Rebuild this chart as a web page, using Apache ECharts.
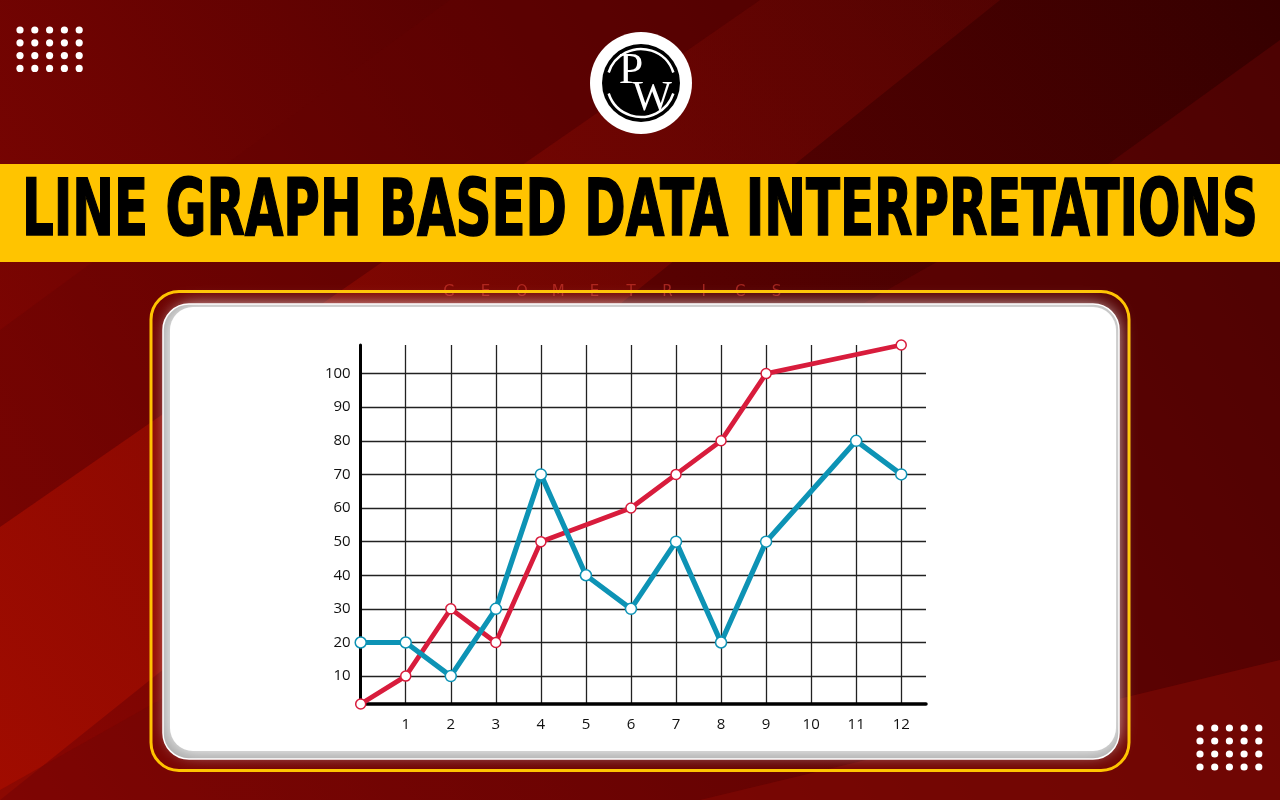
<!DOCTYPE html>
<html><head><meta charset="utf-8">
<script src="https://cdn.jsdelivr.net/npm/echarts@6/dist/echarts.min.js"></script>
<style>html,body{margin:0;padding:0;background:#5a0202;overflow:hidden}#c{width:1280px;height:800px}</style>
</head><body><div id="c"></div>
<script>
// ---- data ----
const xGridTicks = [0, 1, 2, 3, 4, 5, 6, 7, 8, 9, 10, 11, 12];
const xLabelTicks = [1, 2, 3, 4, 5, 6, 7, 8, 9, 10, 11, 12];
const yTicks = [10, 20, 30, 40, 50, 60, 70, 80, 90, 100];
const redX = [0, 1, 2, 3, 4, 6, 7, 8, 9, 12];
const redY = [1.7, 10, 30, 20, 50, 60, 70, 80, 100, 108.5];
const blueX = [0, 1, 2, 3, 4, 5, 6, 7, 8, 9, 11, 12];
const blueY = [20, 20, 10, 30, 70, 40, 30, 50, 20, 50, 80, 70];
const titleText = 'LINE GRAPH BASED DATA INTERPRETATIONS';
const watermarkLetters = ['G', 'E', 'O', 'M', 'E', 'T', 'R', 'I', 'C', 'S'];

const chart = echarts.init(document.getElementById('c'), null, {renderer: 'canvas'});

const titleFont = 'bold 78px "DejaVu Sans Condensed", "DejaVu Sans", sans-serif';
const mctx = document.createElement('canvas').getContext('2d');
mctx.font = titleFont;
const titleScale = 1236 / mctx.measureText(titleText).width;

const g = [];
// background
g.push({type: 'rect', z: -20, shape: {x: 0, y: 0, width: 1280, height: 800},
  style: {fill: new echarts.graphic.LinearGradient(1, 0, 0, 1, [
    {offset: 0, color: '#360000'}, {offset: 0.45, color: '#580101'}, {offset: 1, color: '#8a0602'}])}});
g.push({type: 'polygon', z: -19, shape: {points: [[0, 527], [760, 0], [1000, 0], [0, 800]]},
  style: {fill: new echarts.graphic.LinearGradient(0, 1, 1, 0, [
    {offset: 0, color: 'rgba(162,12,0,0.95)'}, {offset: 0.6, color: 'rgba(130,8,2,0.6)'}, {offset: 1, color: 'rgba(120,8,4,0.3)'}])}});
g.push({type: 'polygon', z: -19, shape: {points: [[0, 330], [450, 0], [760, 0], [0, 527]]},
  style: {fill: 'rgba(100,2,2,0.35)'}});
g.push({type: 'polygon', z: -19, shape: {points: [[1280, 40], [1280, 800], [0, 800], [0, 790], [1100, 170]]},
  style: {fill: 'rgba(110,6,4,0.4)'}});
g.push({type: 'polygon', z: -19, shape: {points: [[1280, 660], [1280, 800], [700, 800]]},
  style: {fill: 'rgba(140,10,4,0.45)'}});
// dots
for (let i = 0; i < 5; i++) for (let j = 0; j < 4; j++) {
  g.push({type: 'circle', z: -10, shape: {cx: 20 + 14.8 * i, cy: 30 + 12.8 * j, r: 3.6}, style: {fill: '#fff'}});
  g.push({type: 'circle', z: -10, shape: {cx: 1200 + 14.7 * i, cy: 728 + 13 * j, r: 3.6}, style: {fill: '#fff'}});
}
// logo
g.push({type: 'circle', z: -10, shape: {cx: 641, cy: 83, r: 51}, style: {fill: '#fff'}});
g.push({type: 'circle', z: -10, shape: {cx: 641, cy: 83, r: 39}, style: {fill: '#000'}});
g.push({type: 'arc', z: -9, shape: {cx: 641, cy: 83, r: 34, startAngle: Math.PI * 1.1, endAngle: Math.PI * 1.9}, style: {stroke: '#fff', lineWidth: 2.5, fill: null}});
g.push({type: 'arc', z: -9, shape: {cx: 641, cy: 83, r: 34, startAngle: Math.PI * 0.1, endAngle: Math.PI * 0.9}, style: {stroke: '#fff', lineWidth: 2.5, fill: null}});
g.push({type: 'text', z: -9, x: 631, y: 71, style: {text: 'P', font: '44px "Liberation Serif", "DejaVu Serif", serif', fill: '#fff', textAlign: 'center', textVerticalAlign: 'middle'}});
g.push({type: 'text', z: -9, x: 652, y: 99, style: {text: 'W', font: '42px "Liberation Serif", "DejaVu Serif", serif', fill: '#fff', textAlign: 'center', textVerticalAlign: 'middle'}});
// banner
g.push({type: 'rect', z: -10, shape: {x: 0, y: 164, width: 1280, height: 98}, style: {fill: '#ffc400'}});
g.push({type: 'text', z: -9, x: 22, y: 215, scaleX: titleScale, style: {text: titleText, font: titleFont, fill: '#000', stroke: '#000', lineWidth: 1.5, textAlign: 'left', textVerticalAlign: 'middle'}});
// watermark
watermarkLetters.forEach((ch, i) => g.push({type: 'text', z: -9, x: 449 + 36.4 * i, y: 292,
  style: {text: ch, font: '15px "DejaVu Sans", sans-serif', fill: 'rgba(215,60,50,0.6)', textAlign: 'center', textVerticalAlign: 'middle'}}));
// card frame
g.push({type: 'rect', z: -8, shape: {x: 151, y: 291.5, width: 978, height: 479, r: 28}, style: {fill: null, stroke: '#ffc400', lineWidth: 3}});
g.push({type: 'rect', z: -8, shape: {x: 163, y: 304, width: 956, height: 455, r: 26}, style: {fill: '#a8a8a8', stroke: '#fff', lineWidth: 1.5}});
g.push({type: 'rect', z: -7, shape: {x: 170, y: 307, width: 946, height: 444, r: 23}, style: {fill: '#fff', shadowBlur: 18, shadowColor: '#fff'}});

const labelFont = {fontFamily: '"Open Sans", "DejaVu Sans", sans-serif', fontSize: 15, color: '#111'};

chart.setOption({
  animation: false,
  graphic: g,
  grid: {left: 360.7, top: 345, width: 565.3, height: 359, containLabel: false},
  xAxis: {
    type: 'value', min: 0, max: 12.55,
    axisLine: {show: true, onZero: false, lineStyle: {color: '#000', width: 3.5}},
    axisTick: {show: false, customValues: xGridTicks},
    axisLabel: Object.assign({customValues: xLabelTicks, margin: 13}, labelFont),
    splitLine: {show: true, lineStyle: {color: '#222', width: 1.3}}
  },
  yAxis: {
    type: 'value', min: 1.7, max: 108.5,
    axisLine: {show: true, onZero: false, lineStyle: {color: '#000', width: 3}},
    axisTick: {show: false, customValues: yTicks},
    axisLabel: Object.assign({customValues: yTicks, margin: 10}, labelFont),
    splitLine: {show: true, lineStyle: {color: '#222', width: 1.3}}
  },
  series: [
    {type: 'line', name: 'red', clip: false, data: redX.map((x, i) => [x, redY[i]]),
     lineStyle: {color: '#d81c3c', width: 4.8}, symbol: 'circle', symbolSize: 10,
     itemStyle: {color: '#fff', borderColor: '#d81c3c', borderWidth: 1.5}, z: 3},
    {type: 'line', name: 'blue', clip: false, data: blueX.map((x, i) => [x, blueY[i]]),
     lineStyle: {color: '#0d93b5', width: 5.2}, symbol: 'circle', symbolSize: 11,
     itemStyle: {color: '#fff', borderColor: '#0d93b5', borderWidth: 1.5}, z: 4}
  ]
});
</script></body></html>
